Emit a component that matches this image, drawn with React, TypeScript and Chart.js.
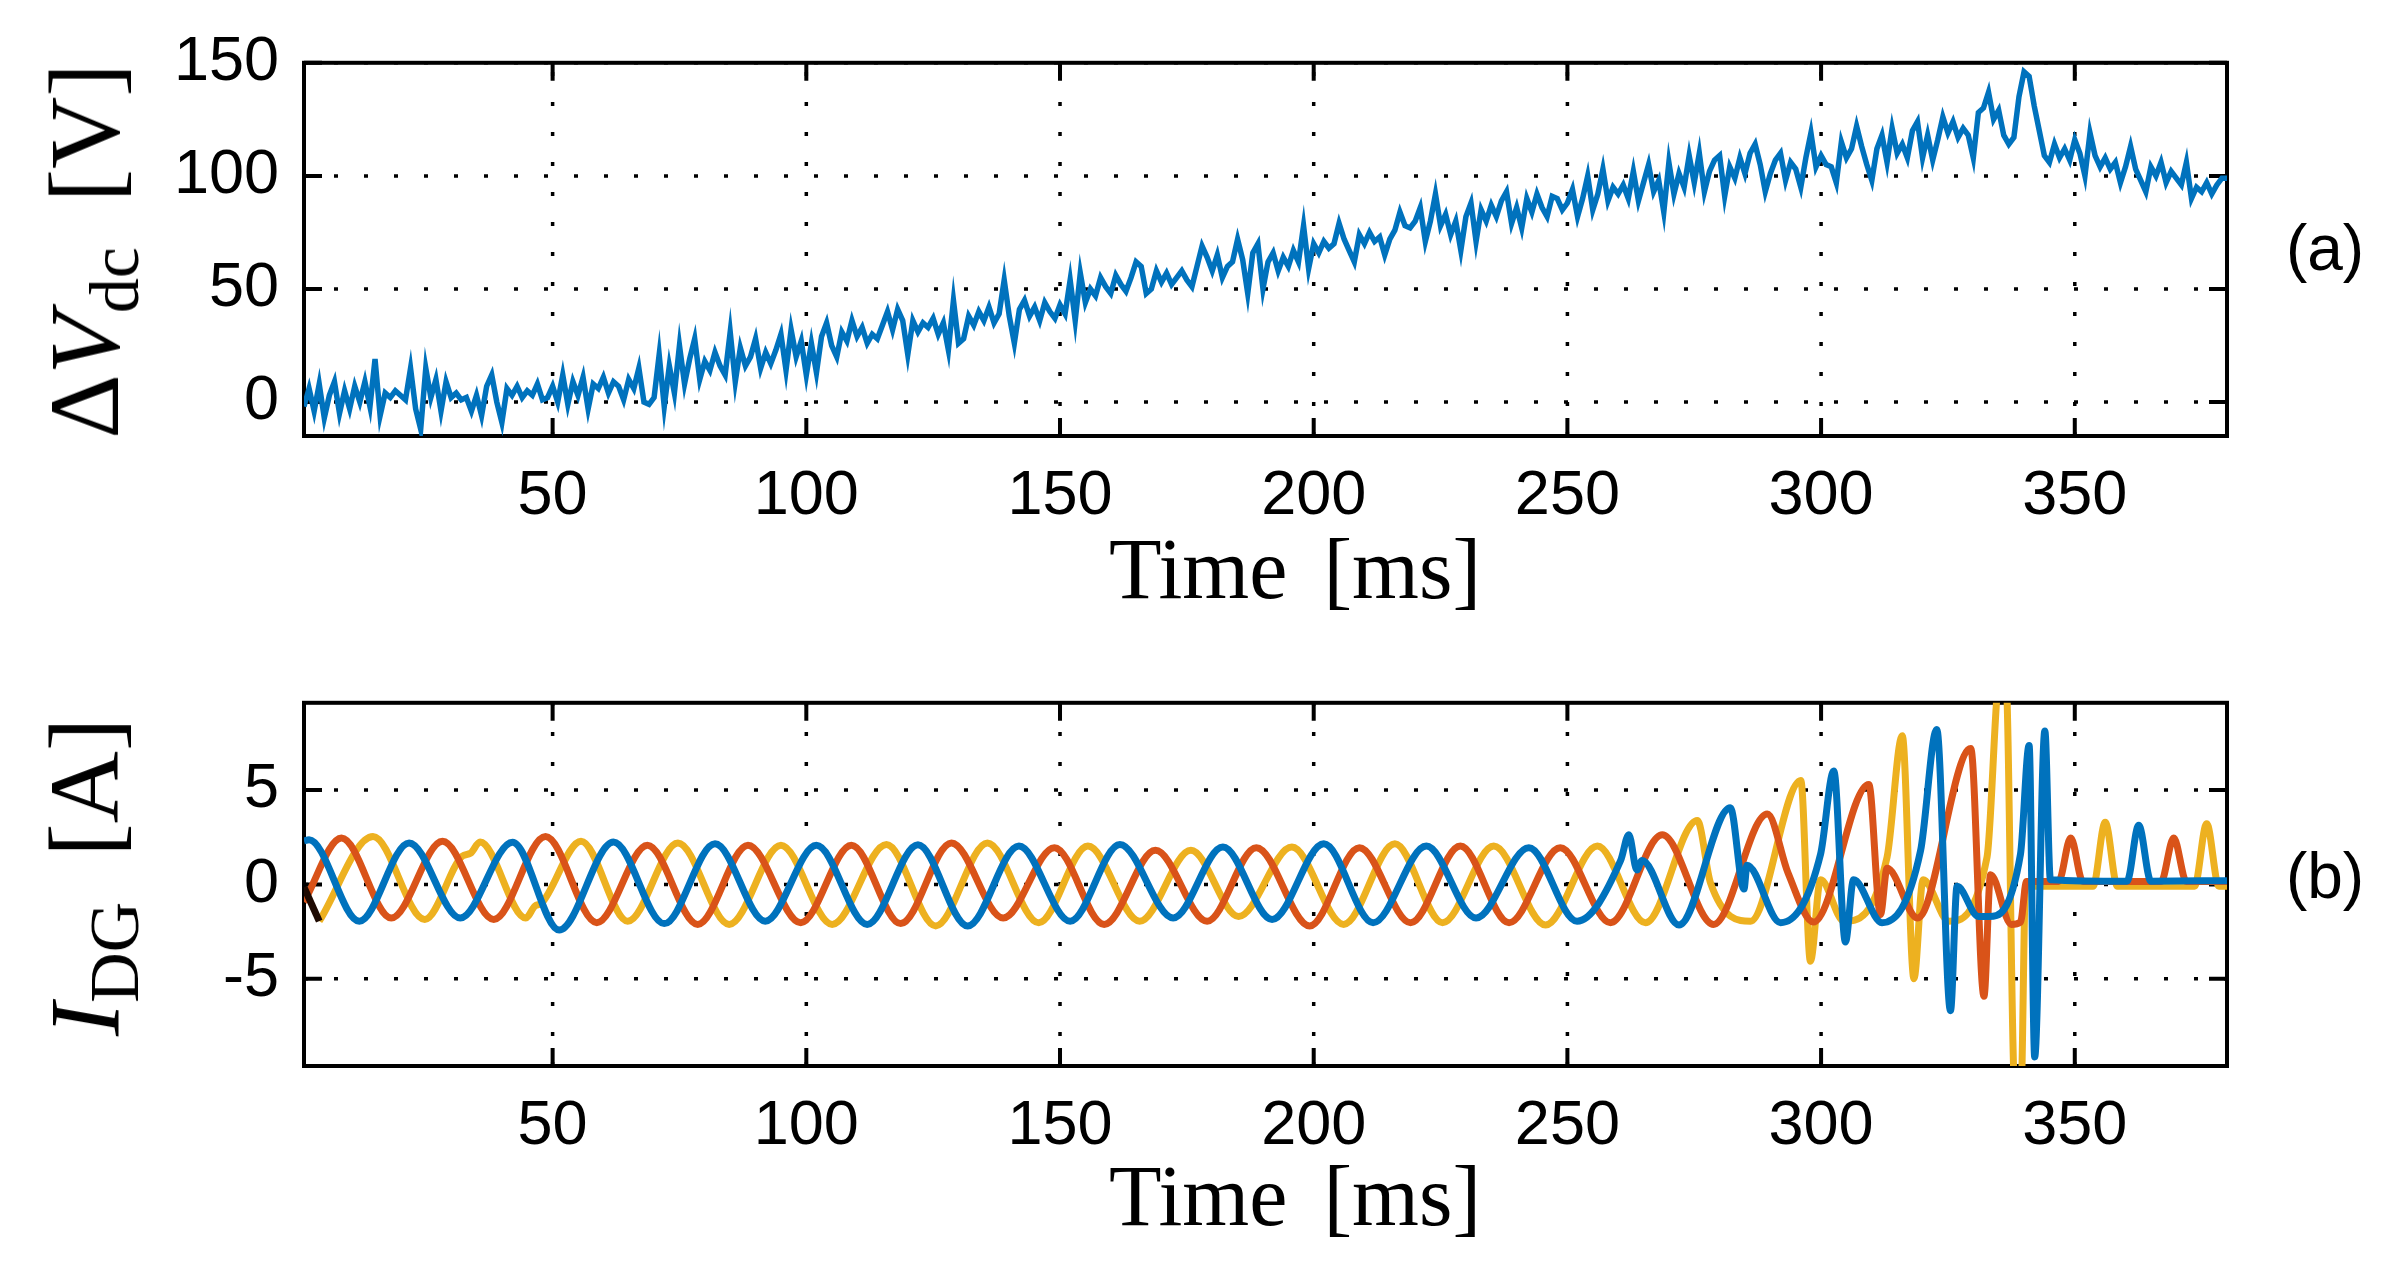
import { useEffect, useRef } from 'react';
import { Chart, registerables } from 'chart.js';

Chart.register(...registerables);

// figure geometry (px)
const W = 2405;
const PLOT_LEFT = 304;
const PLOT_RIGHT = 2227;

const X_MIN = 1;
const X_MAX = 380;
const X_TICKS = [50, 100, 150, 200, 250, 300, 350];
const VDC_TICKS = [0, 50, 100, 150];
const IDG_TICKS = [-5, 0, 5];

// (a) dc-link voltage deviation, one sample per ms starting at T0
const T0 = 1;
const DELTA_VDC = [
  -2, 6, -4, 8, -7, 3, 9, -5, 5, -3,
  7, 0, 9, -2, 19, -6, 4, 2, 5, 3,
  1, 15, -3, -12, 15, 2, 10, -4, 9, 2,
  4, 1, 2, -4, 3, -6, 7, 12, 0, -9,
  6, 3, 7, 2, 5, 3, 8, 1, 2, 7,
  0, 12, -1, 9, 3, 11, -3, 8, 6, 11,
  4, 9, 7, 1, 10, 6, 15, 0, -1, 2,
  21, -2, 16, 4, 25, 8, 19, 28, 10, 18,
  14, 22, 16, 12, 31, 9, 24, 16, 20, 28,
  15, 22, 17, 23, 30, 14, 32, 20, 27, 12,
  26, 13, 29, 35, 25, 20, 31, 27, 36, 29,
  33, 26, 30, 28, 34, 40, 32, 41, 36, 21,
  36, 31, 35, 33, 37, 30, 35, 23, 45, 26,
  28, 38, 34, 40, 36, 42, 35, 39, 54, 38,
  26, 41, 45, 38, 42, 36, 44, 40, 37, 43,
  39, 54, 36, 57, 44, 50, 47, 55, 51, 48,
  56, 52, 49, 55, 62, 60, 48, 50, 58, 53,
  57, 52, 55, 58, 54, 51, 60, 69, 64, 58,
  65, 55, 60, 62, 72, 63, 48, 66, 70, 50,
  62, 66, 58, 64, 60, 67, 62, 78, 59, 70,
  66, 71, 68, 70, 79, 72, 67, 62, 74, 70,
  75, 71, 73, 65, 72, 76, 84, 78, 77, 80,
  86, 71, 80, 92, 78, 83, 74, 80, 67, 82,
  88, 71, 85, 80, 87, 82, 89, 93, 79, 86,
  77, 90, 84, 92, 86, 82, 91, 90, 85, 88,
  94, 82, 90, 100, 85, 92, 103, 89, 95, 92,
  96, 90, 102, 89, 97, 105, 93, 98, 84, 106,
  92, 101, 95, 109, 97, 110, 93, 102, 107, 109,
  91, 104, 99, 108, 101, 110, 114, 105, 93, 101,
  107, 110, 98, 106, 103, 95, 108, 119, 104, 109,
  105, 104, 97, 115, 108, 112, 122, 113, 105, 98,
  112, 118, 106, 121, 110, 114, 108, 120, 124, 108,
  118, 107, 116, 126, 119, 124, 117, 121, 118, 108,
  128, 130, 137, 125, 129, 118, 114, 117, 135, 146,
  144, 131, 120, 109, 106, 114, 108, 112, 107, 116,
  110, 100, 119, 109, 104, 108, 103, 106, 97, 104,
  113, 103, 98, 93, 104, 100, 106, 97, 102, 99,
  96, 106, 90, 95, 93, 97, 92, 96, 99, 99,
];

// (b) DG phase currents: turning points (ms, A)
const PHASE_A_T = [1, 2, 11.9, 21.7, 31.8, 42.1, 51.3, 62, 72, 82, 91.9, 102, 112, 122, 131.8, 141.9, 152, 161.8, 172.3, 182.1,
  191.8, 202, 211.7, 222.2, 232, 242.4, 251.9, 260.5, 262.1, 263.7, 264.7, 272, 282.1, 284.8, 285.4, 292, 299.9, 302.5, 304.8, 306.4,
  312, 319.6, 322.8, 325.5, 326.8, 331, 333, 339.3, 341, 342.1, 344.1, 345.2, 360.3, 362.6, 365, 380];
const PHASE_A_I = [2.3, 2.37, -1.95, 2.2, -1.78, 2.24, -2.42, 2.25, -2.08, 2.15, -1.95, 2.07, -2.12, 2.1, -2.2, 2.03, -1.95, 2.12, -1.78, 1.98,
  -1.86, 2.15, -2.03, 2.03, -1.78, 1.95, -1.95, 1.27, 2.63, 0.76, 1.27, -2.15, 4.07, -0.25, 1.02, -2.03, 1.61, 6.02, -3.05, 0.25,
  -2.03, 1.78, 8.22, -6.7, -0.1, -1.7, -1.7, 1.61, 7.37, -9.15, 8.14, 0.25, 0.17, 3.14, 0.17, 0.2];

const PHASE_B_T = [1, 8.4, 18.2, 28.3, 38.4, 48.6, 58.7, 68.7, 78.6, 88.5, 98.9, 108.9, 118.6, 128.6, 138.8, 148.9, 158.7, 168.8, 179, 188.7,
  199.2, 209, 219.1, 228.9, 238.5, 248.6, 258.5, 268.7, 278.8, 289.4, 293.5, 298.5, 309.4, 311.7, 313, 319, 329.5, 332.1, 333.4, 337.5,
  339.3, 340.5, 346.8, 349.2, 351.6, 367, 369.5, 372, 380];
const PHASE_B_I = [-0.93, 2.46, -1.78, 2.29, -1.86, 2.54, -2.03, 2.08, -2.12, 2.08, -2.03, 2.08, -2.08, 2.2, -1.78, 1.95, -2.12, 1.81, -1.95, 1.95,
  -2.2, 1.95, -2.03, 2.03, -2.03, 1.95, -2.03, 2.63, -2.12, 3.73, 0.6, -2.0, 5.3, -1.6, 0.85, -1.78, 7.2, -5.93, 0.51, -2.12,
  -2.0, 0.15, 0.15, 2.46, 0.15, 0.15, 2.46, 0.15, 0.15];

const PHASE_C_T = [4, 14.6, 24.8, 32.2, 33.8, 35.7, 44.7, 46.5, 47.8, 55.6, 64.8, 74.7, 84.8, 95, 105.1, 115.8, 125.5, 135.7, 145.8, 155.5,
  165.7, 175.8, 185.2, 195.7, 205.9, 216, 225.4, 235.5, 245.7, 255.9, 265.4, 275.6, 278.2, 286.1, 296, 297.9, 299.9, 304.5, 313, 316,
  318.3, 320.1, 325.2, 332.7, 335.2, 336.4, 338.2, 339.4, 340.3, 353.6, 356, 358.4, 373.6, 376, 378.4, 380];
const PHASE_C_I = [-1.95, 2.54, -1.86, 1.5, 1.65, 2.25, -1.78, -1.15, -1.0, 2.29, -1.95, 2.2, -2.12, 2.08, -2.12, 2.12, -2.2, 2.2, -2.03, 2.03,
  -1.95, 1.81, -1.7, 1.98, -2.12, 2.15, -2.03, 2.03, -2.15, 2.03, -2.03, 3.39, 0.08, -1.95, 5.51, -4.07, 0.25, -1.95, 1.44, 7.88,
  -5.0, 0.25, -1.95, 1.44, 11, 11, -11, -11, -0.1, -0.1, 3.3, -0.1, -0.1, 3.22, -0.1, -0.1];

// short dark segment at the very start
const START_T = [1, 4];
const START_I = [-0.15, -1.95];

const BLUE = '#0072BD';
const ORANGE = '#D95319';
const YELLOW = '#EDB120';

const SANS = "'Liberation Sans', Arial, Helvetica, sans-serif";
const SERIF = "'Liberation Serif', 'Times New Roman', serif";
const TICK_FONT = { family: SANS, size: 63 };

const pts = (ts: number[], vs: number[]) => ts.map((t, i) => ({ x: t, y: vs[i] }));

// MATLAB-ish axes: dotted grid, box, ticks pointing inward on all sides
const matlabAxes = {
  id: 'matlabAxes',
  beforeDatasetsDraw(chart: any) {
    const { ctx, chartArea: a, scales } = chart;
    const xs = scales.x, ys = scales.y;
    ctx.save();
    ctx.strokeStyle = '#000';
    ctx.lineCap = 'butt';
    ctx.lineWidth = 3.5;
    ctx.setLineDash([4, 26]);
    xs.ticks.forEach((t: any) => {
      const px = xs.getPixelForValue(t.value);
      ctx.beginPath(); ctx.moveTo(px, a.bottom); ctx.lineTo(px, a.top); ctx.stroke();
    });
    ys.ticks.forEach((t: any) => {
      const py = ys.getPixelForValue(t.value);
      ctx.beginPath(); ctx.moveTo(a.left, py); ctx.lineTo(a.right, py); ctx.stroke();
    });
    ctx.setLineDash([]);
    ctx.lineWidth = 4;
    const TL = 18;
    xs.ticks.forEach((t: any) => {
      const px = xs.getPixelForValue(t.value);
      ctx.beginPath();
      ctx.moveTo(px, a.bottom); ctx.lineTo(px, a.bottom - TL);
      ctx.moveTo(px, a.top); ctx.lineTo(px, a.top + TL);
      ctx.stroke();
    });
    ys.ticks.forEach((t: any) => {
      const py = ys.getPixelForValue(t.value);
      ctx.beginPath();
      ctx.moveTo(a.left, py); ctx.lineTo(a.left + TL, py);
      ctx.moveTo(a.right, py); ctx.lineTo(a.right - TL, py);
      ctx.stroke();
    });
    ctx.strokeRect(a.left, a.top, a.right - a.left, a.bottom - a.top);
    ctx.restore();
  },
};

interface PanelProps {
  top: number; height: number; plotTop: number; plotBottom: number;
  yMin: number; yMax: number; yTicks: number[]; datasets: any[];
}

function Panel({ top, height, plotTop, plotBottom, yMin, yMax, yTicks, datasets }: PanelProps) {
  const ref = useRef<HTMLCanvasElement>(null);

  useEffect(() => {
    if (!ref.current) return;
    const chart = new Chart(ref.current, {
      type: 'line',
      data: { datasets },
      options: {
        animation: false,
        responsive: true,
        maintainAspectRatio: false,
        layout: { padding: { top: plotTop, right: W - PLOT_RIGHT, bottom: 0, left: 0 } },
        plugins: { legend: { display: false }, tooltip: { enabled: false } },
        elements: { point: { radius: 0 } },
        scales: {
          x: {
            type: 'linear', min: X_MIN, max: X_MAX,
            afterBuildTicks: (s: any) => { s.ticks = X_TICKS.map(v => ({ value: v })); },
            afterFit: (s: any) => { s.height = height - plotBottom; },
            grid: { display: false, drawTicks: false },
            border: { display: false },
            ticks: { font: TICK_FONT, color: '#000', padding: 23, maxRotation: 0, autoSkip: false },
          },
          y: {
            type: 'linear', min: yMin, max: yMax,
            afterBuildTicks: (s: any) => { s.ticks = yTicks.map(v => ({ value: v })); },
            afterFit: (s: any) => { s.width = PLOT_LEFT; },
            grid: { display: false, drawTicks: false },
            border: { display: false },
            ticks: { font: TICK_FONT, color: '#000', padding: 25, autoSkip: false },
          },
        },
      } as any,
      plugins: [matlabAxes],
    });
    return () => chart.destroy();
  }, []);

  return (
    <div style={{ position: 'absolute', left: 0, top, width: W, height }}>
      <canvas ref={ref} />
    </div>
  );
}

const xLabelStyle = (top: number): any => ({
  position: 'absolute', left: 1295, top, transform: 'translateX(-50%)',
  fontFamily: SERIF, fontSize: 86, lineHeight: 1, whiteSpace: 'nowrap', color: '#000',
});
const yLabelStyle = (cy: number): any => ({
  position: 'absolute', left: 85, top: cy, transform: 'translate(-50%, -50%) rotate(-90deg)',
  fontFamily: SERIF, fontSize: 100, lineHeight: 1, whiteSpace: 'nowrap', color: '#000',
});
const tagStyle = (cy: number): any => ({
  position: 'absolute', left: 2325, top: cy, transform: 'translate(-50%, -50%)',
  fontFamily: SANS, fontSize: 64, lineHeight: 1, color: '#000',
});
const sub: any = { fontSize: '0.7em', position: 'relative', top: '0.28em' };

export default function App() {
  const topSets = [{
    data: DELTA_VDC.map((v, i) => ({ x: T0 + i, y: v })),
    borderColor: BLUE, borderWidth: 5.5, tension: 0, pointRadius: 0,
  }];
  const line = (d: any[], c: string, extra: any = {}) => ({
    data: d, borderColor: c, borderWidth: 7, pointRadius: 0,
    cubicInterpolationMode: 'monotone', ...extra,
  });
  const botSets = [
    line(pts(START_T, START_I), '#1e0a02', { cubicInterpolationMode: 'default', tension: 0 }),
    line(pts(PHASE_A_T, PHASE_A_I), BLUE),
    line(pts(PHASE_B_T, PHASE_B_I), ORANGE),
    line(pts(PHASE_C_T, PHASE_C_I), YELLOW),
  ];

  return (
    <div style={{ position: 'absolute', left: 0, top: 0, width: W, height: 1279, background: '#fff', overflow: 'hidden' }}>
      <Panel top={0} height={640} plotTop={57} plotBottom={436} yMin={-15} yMax={150} yTicks={VDC_TICKS} datasets={topSets} />
      <Panel top={640} height={639} plotTop={46} plotBottom={426} yMin={-9.63} yMax={9.63} yTicks={IDG_TICKS} datasets={botSets} />

      <div style={yLabelStyle(251)}>
        Δ<i>V</i><span style={sub}>dc</span><span style={{ marginLeft: '0.45em' }}>[V]</span>
      </div>
      <div style={yLabelStyle(877)}>
        <i>I</i><span style={sub}>DG</span><span style={{ marginLeft: '0.45em' }}>[A]</span>
      </div>

      <div style={xLabelStyle(526)}>Time<span style={{ marginLeft: '0.42em' }}>[ms]</span></div>
      <div style={xLabelStyle(1153)}>Time<span style={{ marginLeft: '0.42em' }}>[ms]</span></div>

      <div style={tagStyle(248)}>(a)</div>
      <div style={tagStyle(876)}>(b)</div>
    </div>
  );
}
